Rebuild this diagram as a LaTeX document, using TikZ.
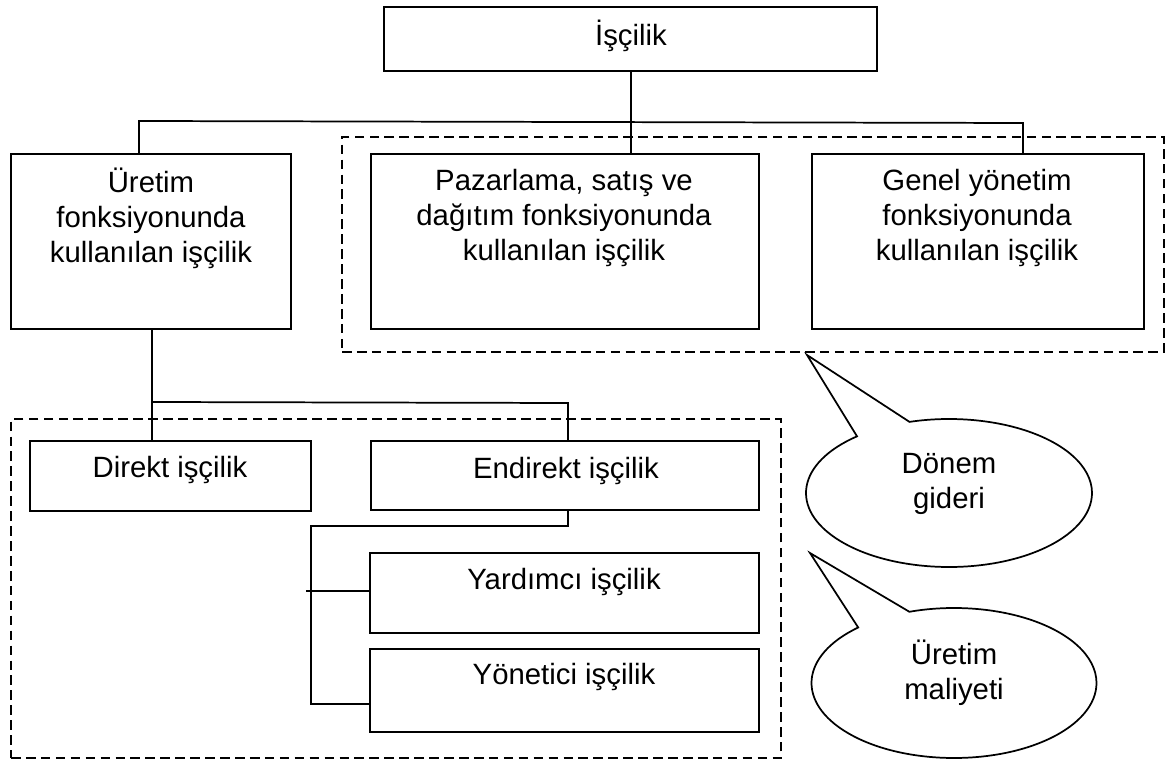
\documentclass[tikz,border=0pt]{standalone}
\usepackage{fontspec}
\setmainfont{Liberation Sans}
\usetikzlibrary{fit,shapes.callouts}
\begin{document}
\begin{tikzpicture}[x=0.75pt,y=-0.75pt,
  box/.style={draw, line width=0.9pt, inner sep=0pt, outer sep=0pt, fit={#1}},
  group/.style={draw, line width=1.8pt, dash pattern=on 7.2pt off 4pt, inner sep=0pt, outer sep=0pt, fit={#1}},
  conn/.style={line width=1.3pt},
  lbl/.style={font=\fontsize{22}{26.3}\selectfont, align=center, inner sep=0pt},
  bubble/.style={ellipse callout, draw, fill=white, line width=1.3pt, inner sep=0pt, outer sep=0pt, callout pointer arc=24}]
\useasboundingbox (0,0) rectangle (1170,762);

% dashed groups
\node[group={(342,137)(1164,352)}] (gdonem) {};
\node[group={(11,419)(781,758)}] (guretim) {};

% boxes
\node[box={(384,7)(877,71)}] (isc) {};
\node[box={(11,154)(291,329)}] (ure) {};
\node[box={(371,154)(759,329)}] (paz) {};
\node[box={(812,154)(1144,329)}] (gen) {};
\node[box={(30,441)(311,511)}] (dir) {};
\node[box={(371,441)(759,510)}] (end) {};
\node[box={(370,553)(759,633)}] (yar) {};
\node[box={(370,649)(759,732)}] (yon) {};

% box texts
\node[lbl] (isct) at (631,36) {İşçilik};
\node[lbl] (uret) at (151,218) {Üretim\\fonksiyonunda\\kullanılan işçilik};
\node[lbl] (pazt) at (564,218) {Pazarlama, satış ve\\dağıtım fonksiyonunda\\kullanılan işçilik};
\node[lbl] (gent) at (977,218) {Genel yönetim\\fonksiyonunda\\kullanılan işçilik};
\node[lbl] (dirt) at (170,470) {Direkt işçilik};
\node[lbl] (endt) at (566,471) {Endirekt işçilik};
\node[lbl] (yart) at (564,582) {Yardımcı işçilik};
\node[lbl] (yont) at (564,677) {Yönetici işçilik};

% junction points
\coordinate (jtop) at (631,122);
\coordinate (jl) at (139,121);
\coordinate (jr) at (1023,123);
\coordinate (jm) at (152,402);
\coordinate (jm2) at (568,403);
\coordinate (je) at (568,526);
\coordinate (jb) at (311,526);
\coordinate (jc) at (311,704);
\coordinate (jy) at (306,591);

% connectors
\draw[conn] (isc.south -| jtop) -- (paz.north -| jtop);
\draw[conn] (ure.north -| jl) -- (jl) -- (jr) -- (gen.north -| jr);
\draw[conn] (ure.south -| jm) -- (dir.north -| jm);
\draw[conn] (jm) -- (jm2) -- (end.north -| jm2);
\draw[conn] (end.south -| je) -- (je) -- (jb) -- (jc) -- (yon.west |- jc);
\draw[conn] (jy) -- (yar.west |- jy);

% speech bubbles
\node[bubble, minimum width=214.5pt, minimum height=111pt, callout absolute pointer={(807,355)}] (donem) at (949,493) {};
\node[lbl] (donemt) at (949,484) {Dönem\\gideri};
\node[bubble, minimum width=213.75pt, minimum height=112.5pt, callout absolute pointer={(810,553)}] (maliyet) at (954,683) {};
\node[lbl] (maliyett) at (954,673) {Üretim\\maliyeti};
\end{tikzpicture}
\end{document}
